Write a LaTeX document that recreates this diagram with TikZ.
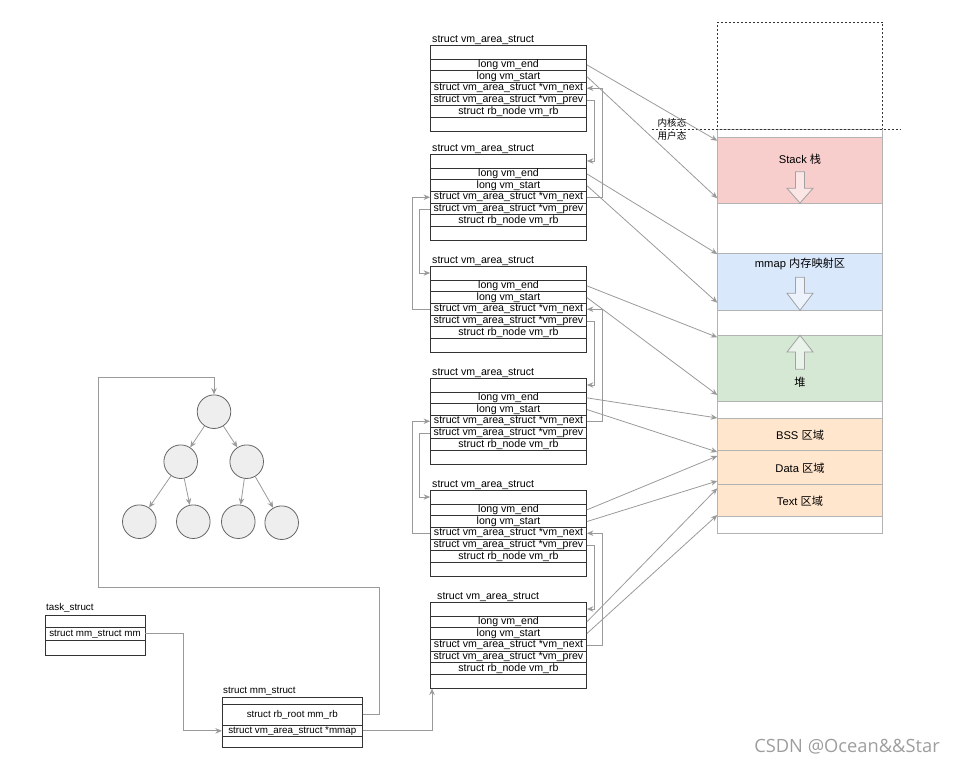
\documentclass[tikz,border=0pt]{standalone}
\usepackage{fontspec}
\setmainfont{Liberation Sans}
\newfontfamily\cjk{Noto Sans CJK SC}
\newfontfamily\wmfont{Open Sans}
\usetikzlibrary{arrows.meta,calc}
\definecolor{lnk}{HTML}{9A9A9A}
\definecolor{edgeg}{HTML}{B3B3B3}
\definecolor{pinkf}{HTML}{F8CECC}
\definecolor{bluef}{HTML}{DAE8FC}
\definecolor{greenf}{HTML}{D5E8D4}
\definecolor{orangef}{HTML}{FFE6CC}
\definecolor{boxline}{HTML}{333333}
\definecolor{circf}{HTML}{EEEEEE}
\definecolor{circd}{HTML}{666666}

\newcommand\vmbox[3]{%
  \node[ttl,anchor=base west] (#1t) at (#3,#2-2.5) {struct vm\_area\_struct};
  \node[rowh] (#1h) at (508.5,#2+7) {};
  \node[rowm] (#1e) at (508.5,#2+19.85) {long vm\_end};
  \node[rowm] (#1s) at (508.5,#2+31.55) {long vm\_start};
  \node[rowm] (#1n) at (508.5,#2+43.25) {struct vm\_area\_struct *vm\_next};
  \node[rowm] (#1p) at (508.5,#2+54.95) {struct vm\_area\_struct *vm\_prev};
  \node[rowm] (#1r) at (508.5,#2+66.65) {struct rb\_node vm\_rb};
  \node[rowh] (#1f) at (508.5,#2+79.5) {};
}

\tikzset{
  ttl/.style={font=\fontsize{10.6}{12}\selectfont, inner sep=0},
  rowh/.style={draw=boxline, line width=0.8pt, minimum width=156pt, minimum height=14pt, inner sep=0},
  rowm/.style={rowh, minimum height=11.7pt, font=\fontsize{10.6}{12}\selectfont},
  srow/.style={draw=boxline, line width=0.8pt, inner sep=0, font=\fontsize{9.8}{11}\selectfont},
  sttl/.style={font=\fontsize{9.8}{11}\selectfont, inner sep=0},
  conn/.style={draw=lnk, line width=0.8pt, -{Stealth[length=6.5pt,width=5.5pt]}},
  seg/.style={draw=edgeg, line width=0.8pt, minimum width=165.4pt, inner sep=0},
  memlbl/.style={font=\fontsize{11.2}{13}\selectfont, inner sep=0},
  klbl/.style={font=\fontsize{9.6}{11}\selectfont\cjk, inner sep=0},
  barrow/.style={draw=edgeg!90!black, line width=0.8pt, fill=white, fill opacity=0.5},
  tnode/.style={circle, draw=circd, line width=0.8pt, fill=circf, minimum size=33.6pt, inner sep=0},
}

\begin{document}
\begin{tikzpicture}[x=1pt,y=-1pt]
\useasboundingbox (0,0) rectangle (962,768);

% ---------- memory layout column ----------
\node[seg, draw=boxline, dashed, dash pattern=on 2pt off 2pt, minimum height=106.7pt] (kernel) at (800,75.65) {};
\node[seg, minimum height=404.3pt] (col) at (800,331.15) {};
\node[seg, fill=pinkf, minimum height=66.3pt] (stack) at (800,170.15) {};
\node[seg, fill=bluef, minimum height=57pt] (mmapseg) at (800,281.8) {};
\node[seg, fill=greenf, minimum height=66.4pt] (heap) at (800,368.5) {};
\node[seg, fill=orangef, minimum height=32.4pt] (bss) at (800,434.5) {};
\node[seg, fill=orangef, minimum height=33.6pt] (data) at (800,467.5) {};
\node[seg, fill=orangef, minimum height=32.4pt] (text) at (800,500.5) {};
\coordinate (dl1) at (651.7,129);
\coordinate (dl2) at (900,129);
\draw[draw=boxline, line width=0.8pt, dash pattern=on 2pt off 2pt] (dl1) -- (dl2);

\node[klbl] (kern) at (672,123) {内核态};
\node[klbl] (user) at (672,135.5) {用户态};

\node[memlbl] (lstack) at (800,159) {Stack {\cjk 栈}};
\node[memlbl] (lmmap) at (800,264) {mmap {\cjk 内存映射区}};
\node[memlbl] (lheap) at (800,382.7) {{\cjk 堆}};
\node[memlbl] (lbss) at (800,435) {BSS {\cjk 区域}};
\node[memlbl] (ldata) at (800,468.3) {Data {\cjk 区域}};
\node[memlbl] (ltext) at (800,501) {Text {\cjk 区域}};

% block arrows
\draw[barrow] (795.5,171.7) -- (804.5,171.7) -- (804.5,188.3) -- (813,188.3) -- (800,203) -- (787,188.3) -- (795.5,188.3) -- cycle;
\draw[barrow] (795.5,277.3) -- (804.5,277.3) -- (804.5,293.3) -- (813,293.3) -- (800,310.3) -- (787,293.3) -- (795.5,293.3) -- cycle;
\draw[barrow] (795.5,369.3) -- (804.5,369.3) -- (804.5,352) -- (813,352) -- (800,335.3) -- (787,352) -- (795.5,352) -- cycle;

% ---------- vm_area_struct boxes ----------
\vmbox{b1}{45}{432}
\vmbox{b2}{154}{432}
\vmbox{b3}{266}{432}
\vmbox{b4}{378}{432}
\vmbox{b5}{490}{432}
\vmbox{b6}{602}{437}

% targets on the memory column
\coordinate (m1) at (717.3,140.7);
\coordinate (m2) at (717.3,198.3);
\coordinate (m3) at (717.3,254);
\coordinate (m4) at (717.3,302.7);
\coordinate (m5) at (717.3,337.3);
\coordinate (m6) at (717.3,395);
\coordinate (m7) at (717.3,418);
\coordinate (m8) at (717.3,452);
\coordinate (m9) at (717.3,456);
\coordinate (m10) at (717.3,481);
\coordinate (m11) at (717.3,488.3);
\coordinate (m12) at (717.3,515);

\draw[conn] (b1e.east) -- (m1);
\draw[conn] (b1s.east) -- (m2);
\draw[conn] (b2e.east) -- (m3);
\draw[conn] (b2s.east) -- (m4);
\draw[conn] (b3e.east) -- (m5);
\draw[conn] (b3s.east) -- (m6);
\draw[conn] (b4e.east) -- (m7);
\draw[conn] (b4s.east) -- (m8);
\draw[conn] (b5e.east) -- (m9);
\draw[conn] (b5s.east) -- (m10);
\draw[conn] (b6e.east) -- (m11);
\draw[conn] (b6s.east) -- (m12);

% linked list, right side
\draw[conn] (b1p.east) -- ++(7.5,0) |- (b2h.east);
\draw[conn] (b2n.east) -- ++(15.5,0) |- (b1n.east);
\draw[conn] (b3p.east) -- ++(7.5,0) |- (b4h.east);
\draw[conn] (b4n.east) -- ++(15.5,0) |- (b3n.east);
\draw[conn] (b5p.east) -- ++(7.5,0) |- (b6h.east);
\draw[conn] (b6n.east) -- ++(15.5,0) |- (b5n.east);
% linked list, left side
\draw[conn] (b3n.west) -- ++(-17.5,0) |- (b2n.west);
\draw[conn] (b2p.west) -- ++(-10.5,0) |- (b3h.west);
\draw[conn] (b5n.west) -- ++(-17.5,0) |- (b4n.west);
\draw[conn] (b4p.west) -- ++(-10.5,0) |- (b5h.west);

% ---------- task_struct ----------
\node[sttl, anchor=base west] (tt) at (46,610.5) {task\_struct};
\node[srow, minimum width=100pt, minimum height=12pt] (th) at (95,621.7) {};
\node[srow, minimum width=100pt, minimum height=12.3pt] (tmm) at (95,633.85) {struct mm\_struct mm};
\node[srow, minimum width=100pt, minimum height=15.7pt] (tf) at (95,647.85) {};

% ---------- mm_struct ----------
\node[sttl, anchor=base west] (mt) at (223,693.5) {struct mm\_struct};
\node[srow, minimum width=140pt, minimum height=6.7pt] (mh) at (292.3,700.65) {};
\node[srow, minimum width=140pt, minimum height=21pt] (mrb) at (292.3,714.5) {struct rb\_root mm\_rb};
\node[srow, minimum width=140pt, minimum height=11.7pt] (mmap) at (292.3,730.85) {struct vm\_area\_struct *mmap};
\node[srow, minimum width=140pt, minimum height=10.6pt] (mf) at (292.3,742) {};

% ---------- rb tree ----------
\node[tnode] (root) at (214,411.7) {};
\node[tnode] (tl) at (180.7,461.7) {};
\node[tnode] (tr) at (246.7,461.7) {};
\node[tnode] (tll) at (139.3,521.7) {};
\node[tnode] (tlr) at (193.3,521.7) {};
\node[tnode] (trl) at (238.3,521.7) {};
\node[tnode] (trr) at (281.7,522.7) {};
\draw[conn] (root) -- (tl);
\draw[conn] (root) -- (tr);
\draw[conn] (tl) -- (tll);
\draw[conn] (tl) -- (tlr);
\draw[conn] (tr) -- (trl);
\draw[conn] (tr) -- (trr);

% ---------- bottom connectors ----------
\draw[conn] (tmm.east) -- ++(38.3,0) |- (mmap.west);
\coordinate (rb1) at (379,587.3);
\coordinate (rb2) at (98.3,587.3);
\coordinate (rb3) at (214,377.3);
\draw[conn] (mrb.east) -| (rb1) -- (rb2) |- (rb3) -- (root.north);
\coordinate (b6in) at (432,688.5);
\draw[conn] (mmap.east) -| (b6in);

% watermark
\node[font=\fontsize{18.3}{20}\selectfont\wmfont, text=black!38, inner sep=0] (wm) at (847,746.5) {CSDN @Ocean\&\&Star};
\end{tikzpicture}
\end{document}
